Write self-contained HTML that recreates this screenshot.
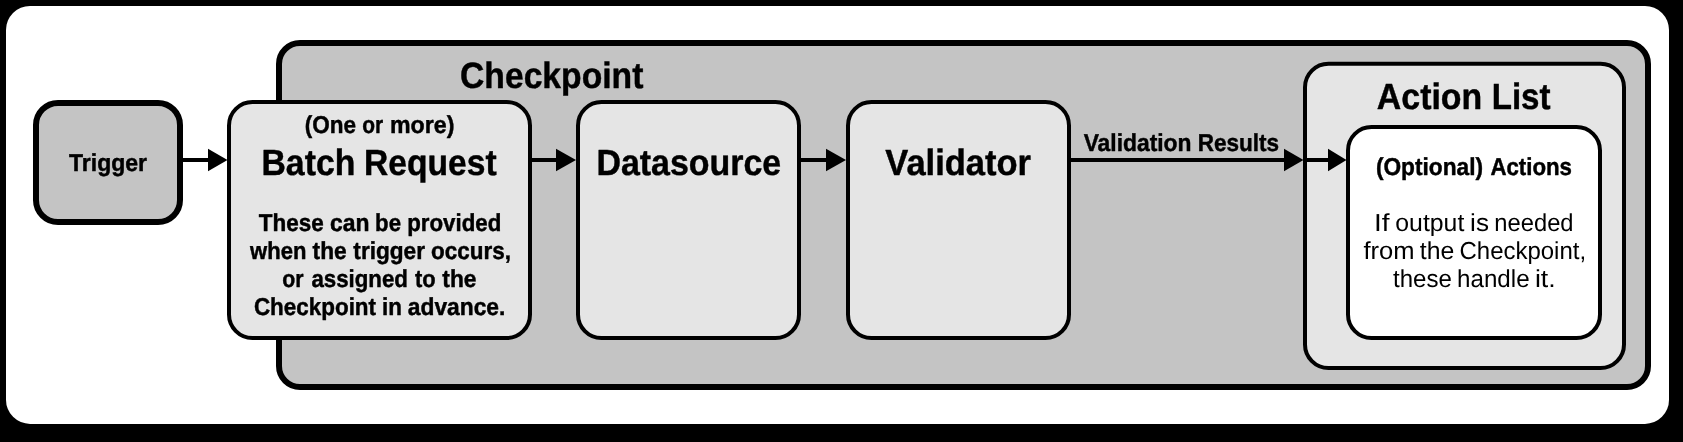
<!DOCTYPE html>
<html>
<head>
<meta charset="utf-8">
<title>Checkpoint flow</title>
<style>
  html, body { margin: 0; padding: 0; background: #000; }
  body { width: 1683px; height: 442px; overflow: hidden; }
  svg { display: block; will-change: transform; text-rendering: geometricPrecision; }
  text { font-family: "Liberation Sans", sans-serif; fill: #000; }
  .b text { font-weight: bold; stroke: #000; stroke-width: 0.45px; stroke-linejoin: round; }
</style>
</head>
<body>
<svg width="1683" height="442" viewBox="0 0 1683 442">
  <!-- black backdrop + white card -->
  <rect x="0" y="0" width="1683" height="442" fill="#000"/>
  <rect x="6" y="6" width="1663" height="417.9" rx="24" ry="24" fill="#fff"/>

  <!-- Checkpoint container -->
  <rect x="279" y="43" width="1369" height="344" rx="21" ry="21" fill="#c4c4c4" stroke="#000" stroke-width="6"/>

  <!-- Trigger -->
  <rect x="36" y="103" width="144" height="119" rx="22" ry="22" fill="#c4c4c4" stroke="#000" stroke-width="6"/>

  <!-- Batch Request -->
  <rect x="229" y="102" width="301" height="236" rx="23.5" ry="23.5" fill="#e5e5e5" stroke="#000" stroke-width="4"/>

  <!-- Datasource -->
  <rect x="578" y="102" width="221" height="236" rx="23.5" ry="23.5" fill="#e5e5e5" stroke="#000" stroke-width="4"/>

  <!-- Validator -->
  <rect x="848" y="102" width="221" height="236" rx="23.5" ry="23.5" fill="#e5e5e5" stroke="#000" stroke-width="4"/>

  <!-- Action List -->
  <rect x="1305" y="63.8" width="319" height="304.2" rx="23.5" ry="23.5" fill="#e5e5e5" stroke="#000" stroke-width="4"/>

  <!-- (Optional) Actions -->
  <rect x="1348" y="127" width="252" height="211" rx="23.5" ry="23.5" fill="#fff" stroke="#000" stroke-width="4"/>

  <!-- arrows -->
  <g fill="#000" stroke="none">
    <rect x="182" y="158" width="28" height="4"/>
    <polygon points="208,148.8 227.5,160 208,171.2"/>

    <rect x="531" y="158" width="27" height="4"/>
    <polygon points="556,148.8 576,160 556,171.2"/>

    <rect x="800" y="158" width="28" height="4"/>
    <polygon points="826,148.8 846,160 826,171.2"/>

    <rect x="1070" y="158" width="216" height="4"/>
    <polygon points="1284,148.8 1303.5,160 1284,171.2"/>

    <rect x="1306" y="158" width="24" height="4"/>
    <polygon points="1328,148.8 1346.5,160 1328,171.2"/>
  </g>

  <!-- labels (one <text> per word, fitted to measured extents) -->
  <g class="b" font-size="24.4">
    <text x="69.00" y="171.00" textLength="78.00" lengthAdjust="spacingAndGlyphs">Trigger</text>
  </g>
  <g class="b" font-size="36.5">
    <text x="460.00" y="88.00" textLength="183.40" lengthAdjust="spacingAndGlyphs">Checkpoint</text>
  </g>
  <g class="b" font-size="24.4">
    <text x="304.65" y="133.00" textLength="51.28" lengthAdjust="spacingAndGlyphs">(One</text>
    <text x="362.36" y="133.00" textLength="20.88" lengthAdjust="spacingAndGlyphs">or</text>
    <text x="390.03" y="133.00" textLength="64.36" lengthAdjust="spacingAndGlyphs">more)</text>
  </g>
  <g class="b" font-size="36.5">
    <text x="261.45" y="175.00" textLength="93.91" lengthAdjust="spacingAndGlyphs">Batch</text>
    <text x="364.00" y="175.00" textLength="132.69" lengthAdjust="spacingAndGlyphs">Request</text>
  </g>
  <g class="b" font-size="24.4">
    <text x="258.87" y="231.00" textLength="64.91" lengthAdjust="spacingAndGlyphs">These</text>
    <text x="330.10" y="231.00" textLength="39.51" lengthAdjust="spacingAndGlyphs">can</text>
    <text x="375.08" y="231.00" textLength="25.90" lengthAdjust="spacingAndGlyphs">be</text>
    <text x="407.21" y="231.00" textLength="94.04" lengthAdjust="spacingAndGlyphs">provided</text>
  </g>
  <g class="b" font-size="24.4">
    <text x="250.05" y="259.00" textLength="56.33" lengthAdjust="spacingAndGlyphs">when</text>
    <text x="312.62" y="259.00" textLength="34.09" lengthAdjust="spacingAndGlyphs">the</text>
    <text x="353.36" y="259.00" textLength="71.64" lengthAdjust="spacingAndGlyphs">trigger</text>
    <text x="431.03" y="259.00" textLength="79.86" lengthAdjust="spacingAndGlyphs">occurs,</text>
  </g>
  <g class="b" font-size="24.4">
    <text x="282.25" y="287.00" textLength="21.26" lengthAdjust="spacingAndGlyphs">or</text>
    <text x="311.42" y="287.00" textLength="96.57" lengthAdjust="spacingAndGlyphs">assigned</text>
    <text x="414.92" y="287.00" textLength="20.68" lengthAdjust="spacingAndGlyphs">to</text>
    <text x="442.36" y="287.00" textLength="34.13" lengthAdjust="spacingAndGlyphs">the</text>
  </g>
  <g class="b" font-size="24.4">
    <text x="253.93" y="315.00" textLength="122.13" lengthAdjust="spacingAndGlyphs">Checkpoint</text>
    <text x="382.11" y="315.00" textLength="19.89" lengthAdjust="spacingAndGlyphs">in</text>
    <text x="407.81" y="315.00" textLength="97.57" lengthAdjust="spacingAndGlyphs">advance.</text>
  </g>
  <g class="b" font-size="36.5">
    <text x="596.41" y="175.00" textLength="184.83" lengthAdjust="spacingAndGlyphs">Datasource</text>
  </g>
  <g class="b" font-size="36.5">
    <text x="885.33" y="175.00" textLength="145.67" lengthAdjust="spacingAndGlyphs">Validator</text>
  </g>
  <g class="b" font-size="24.4">
    <text x="1083.65" y="151.00" textLength="107.87" lengthAdjust="spacingAndGlyphs">Validation</text>
    <text x="1197.70" y="151.00" textLength="81.44" lengthAdjust="spacingAndGlyphs">Results</text>
  </g>
  <g class="b" font-size="36.5">
    <text x="1376.84" y="109.00" textLength="105.37" lengthAdjust="spacingAndGlyphs">Action</text>
    <text x="1491.74" y="109.00" textLength="58.81" lengthAdjust="spacingAndGlyphs">List</text>
  </g>
  <g class="b" font-size="24.4">
    <text x="1375.89" y="175.00" textLength="107.11" lengthAdjust="spacingAndGlyphs">(Optional)</text>
    <text x="1490.38" y="175.00" textLength="81.62" lengthAdjust="spacingAndGlyphs">Actions</text>
  </g>
  <g font-size="24.6">
    <text x="1373.93" y="231.00" textLength="15.53" lengthAdjust="spacingAndGlyphs">If</text>
    <text x="1395.29" y="231.00" textLength="69.01" lengthAdjust="spacingAndGlyphs">output</text>
    <text x="1470.12" y="231.00" textLength="18.83" lengthAdjust="spacingAndGlyphs">is</text>
    <text x="1494.37" y="231.00" textLength="79.18" lengthAdjust="spacingAndGlyphs">needed</text>
  </g>
  <g font-size="24.6">
    <text x="1363.40" y="259.00" textLength="51.09" lengthAdjust="spacingAndGlyphs">from</text>
    <text x="1419.81" y="259.00" textLength="34.51" lengthAdjust="spacingAndGlyphs">the</text>
    <text x="1459.50" y="259.00" textLength="126.56" lengthAdjust="spacingAndGlyphs">Checkpoint,</text>
  </g>
  <g font-size="24.6">
    <text x="1393.06" y="287.00" textLength="58.77" lengthAdjust="spacingAndGlyphs">these</text>
    <text x="1457.04" y="287.00" textLength="72.55" lengthAdjust="spacingAndGlyphs">handle</text>
    <text x="1534.90" y="287.00" textLength="20.78" lengthAdjust="spacingAndGlyphs">it.</text>
  </g>
</svg>
</body>
</html>
